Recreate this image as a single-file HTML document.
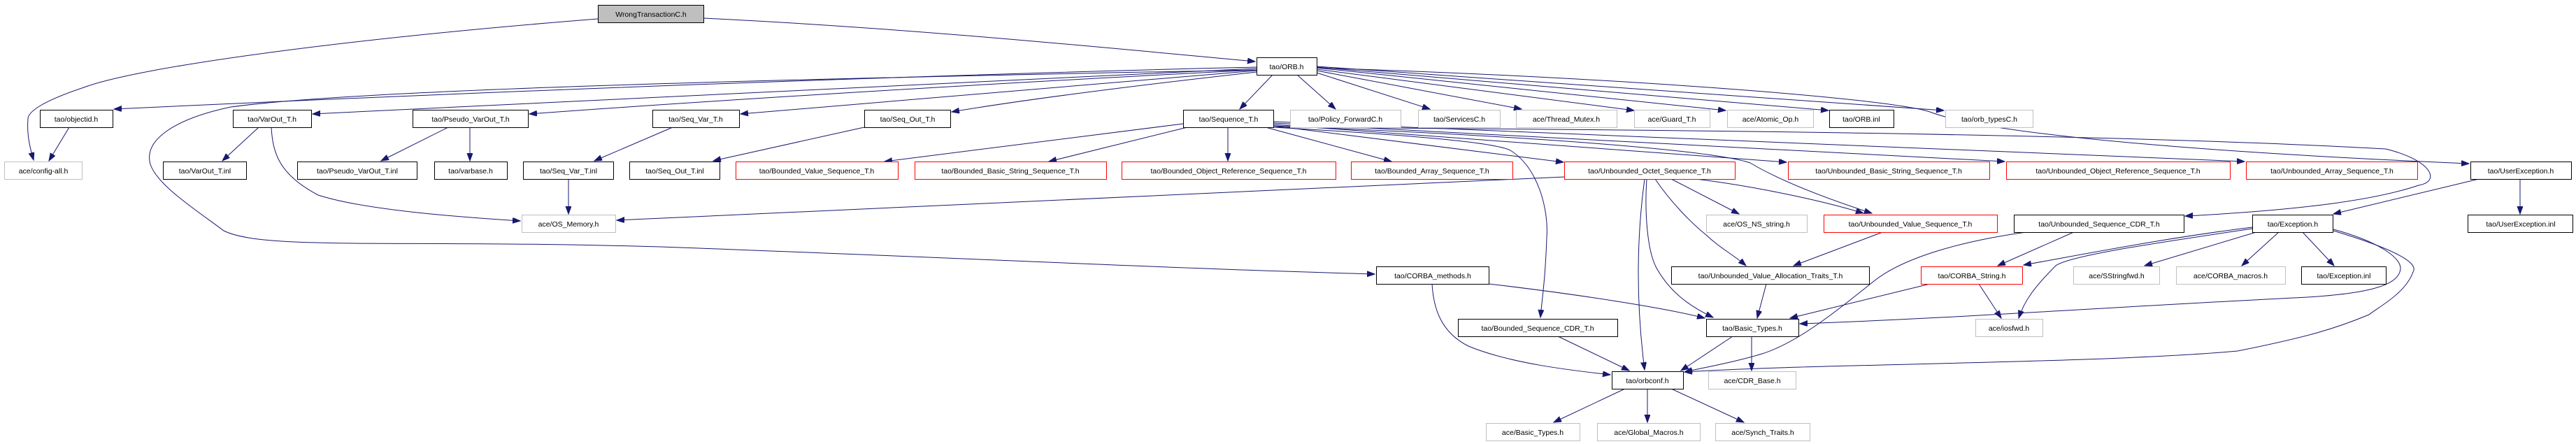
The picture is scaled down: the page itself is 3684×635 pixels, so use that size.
<!DOCTYPE html>
<html><head><meta charset="utf-8"><style>
html,body{margin:0;padding:0;background:#fff;}
svg{display:block;}
text{font-family:"Liberation Sans",sans-serif;font-size:10.5px;fill:#000;}
.b{fill:#fff;stroke:#000;stroke-width:1;}
.g{fill:#fff;stroke:#bfbfbf;stroke-width:1;}
.r{fill:#fff;stroke:#ff0000;stroke-width:1;}
.e path,.e line{fill:none;stroke:#191970;stroke-width:1;marker-end:url(#a);}
</style></head><body>
<svg width="3684" height="635" viewBox="0 0 3684 635" xmlns="http://www.w3.org/2000/svg">
<defs><marker id="a" markerUnits="userSpaceOnUse" markerWidth="12" markerHeight="10" refX="11" refY="4" orient="auto"><path d="M0,0 L11,4 L0,8 z" fill="#191970" stroke="#191970"/></marker></defs>
<g class="e">
<path d="M1006,26 C1300,40 1600,70 1795,88"/>
<path d="M855,27 C500,55 200,95 120,125 C60,145 40,160 40,170 C38,195 44,215 48,229"/>
<path d="M1797,96 C1200,110 500,140 163,156"/>
<path d="M1797,98 C1300,120 800,145 447,163"/>
<path d="M1797,100 C1400,120 1000,145 757,163"/>
<path d="M1797,101 C1500,125 1250,145 1059,163"/>
<path d="M1797,103 C1600,125 1450,145 1361,160"/>
<line x1="1820" y1="107" x2="1773" y2="156"/>
<line x1="1855" y1="107" x2="1910" y2="156"/>
<line x1="1883" y1="104" x2="2045" y2="156"/>
<line x1="1883" y1="101" x2="2176" y2="156"/>
<line x1="1883" y1="99" x2="2337" y2="158"/>
<line x1="1883" y1="97" x2="2468" y2="158"/>
<line x1="1883" y1="96" x2="2615" y2="158"/>
<line x1="1883" y1="95" x2="2780" y2="158"/>
<path d="M1883,97 C2300,110 2700,140 2760,160 C2850,195 3200,220 3531,234"/>
<path d="M1797,100 C1000,115 500,130 330,153 C250,170 205,200 215,235 C225,265 280,300 320,330 C380,360 600,340 1000,355 C1400,370 1700,385 1966,392"/>
<path d="M1821,182 C2300,185 3000,190 3412,213 C3480,230 3490,260 3459,265 C3400,285 3300,300 3125,309"/>
<line x1="1692" y1="177" x2="1265" y2="231"/>
<line x1="1698" y1="182" x2="1500" y2="231"/>
<line x1="1756" y1="182" x2="1756" y2="230"/>
<line x1="1810" y1="182" x2="1990" y2="231"/>
<line x1="1821" y1="180" x2="2236" y2="232"/>
<line x1="1821" y1="178" x2="2555" y2="232"/>
<line x1="1821" y1="176" x2="2867" y2="231"/>
<line x1="1821" y1="174" x2="3210" y2="231"/>
<path d="M1821,180 C2200,195 2450,215 2503,233 C2540,255 2600,280 2677,305"/>
<path d="M1821,182 C2050,195 2140,205 2160,215 C2200,240 2215,300 2212,340 C2210,400 2205,430 2203,454"/>
<path d="M2237,253 C1800,270 1300,300 882,315"/>
<line x1="2390" y1="256" x2="2487" y2="306"/>
<path d="M2425,256 C2500,265 2600,285 2665,305"/>
<path d="M2367,256 C2390,290 2420,320 2440,336 C2460,355 2480,365 2497,380"/>
<path d="M2355,256 C2352,300 2355,360 2370,385 C2390,420 2420,440 2450,454"/>
<path d="M2352,256 C2342,330 2338,420 2352,529"/>
<path d="M2129,406 C2250,420 2380,440 2438,455"/>
<path d="M388,182 C390,220 400,250 455,279 C520,300 650,310 744,316"/>
<path d="M2048,406 C2050,440 2060,475 2100,495 C2160,520 2250,530 2303,536"/>
<line x1="2228" y1="481" x2="2330" y2="530"/>
<line x1="2526" y1="406" x2="2513" y2="455"/>
<line x1="2695" y1="331" x2="2565" y2="380"/>
<line x1="2478" y1="481" x2="2404" y2="530"/>
<line x1="2505" y1="481" x2="2505" y2="530"/>
<line x1="2326" y1="555" x2="2222" y2="604"/>
<line x1="2356" y1="555" x2="2356" y2="604"/>
<line x1="2388" y1="555" x2="2494" y2="604"/>
<path d="M2905,331 C2800,345 2720,370 2680,402 C2620,450 2570,490 2520,506 C2480,518 2440,525 2409,532"/>
<line x1="2968" y1="331" x2="2857" y2="380"/>
<path d="M3221,325 C3100,340 3000,360 2894,379"/>
<path d="M3221,327 C3100,345 2960,365 2940,380 C2910,410 2895,430 2887,455"/>
<line x1="3230" y1="331" x2="3067" y2="380"/>
<line x1="3260" y1="331" x2="3206" y2="380"/>
<line x1="3292" y1="331" x2="3338" y2="380"/>
<path d="M3337,328 C3400,345 3440,370 3432,389 C3425,410 3380,420 3300,425 C3000,440 2800,455 2574,463"/>
<path d="M3337,330 C3420,355 3460,375 3451,389 C3440,420 3400,440 3388,450 C3340,470 3300,482 3200,502 C3000,520 2600,520 2409,532"/>
<line x1="3545" y1="256" x2="3337" y2="306"/>
<line x1="3604" y1="256" x2="3604" y2="306"/>
<line x1="2760" y1="406" x2="2560" y2="455"/>
<line x1="2830" y1="406" x2="2862" y2="455"/>
<line x1="641" y1="182" x2="545" y2="230"/>
<line x1="672" y1="182" x2="672" y2="230"/>
<line x1="370" y1="182" x2="318" y2="230"/>
<line x1="99" y1="182" x2="70" y2="230"/>
<line x1="962" y1="182" x2="850" y2="230"/>
<line x1="813" y1="256" x2="813" y2="306"/>
<line x1="1236" y1="182" x2="1020" y2="230"/>
</g>
<g text-anchor="middle">
<rect x="855.5" y="7.5" width="151" height="25" fill="#bfbfbf" stroke="#000"/><text x="931" y="24">WrongTransactionC.h</text>
<rect class="b" x="1797.5" y="82.5" width="86" height="25"/><text x="1840" y="99">tao/ORB.h</text>
<rect class="b" x="57.5" y="157.5" width="104" height="25"/><text x="109" y="174">tao/objectid.h</text>
<rect class="b" x="333.5" y="157.5" width="112" height="25"/><text x="389" y="174">tao/VarOut_T.h</text>
<rect class="b" x="590.5" y="157.5" width="165" height="25"/><text x="673" y="174">tao/Pseudo_VarOut_T.h</text>
<rect class="b" x="933.5" y="157.5" width="124" height="25"/><text x="995" y="174">tao/Seq_Var_T.h</text>
<rect class="b" x="1236.5" y="157.5" width="123" height="25"/><text x="1298" y="174">tao/Seq_Out_T.h</text>
<rect class="b" x="1692.5" y="157.5" width="129" height="25"/><text x="1757" y="174">tao/Sequence_T.h</text>
<rect class="g" x="1845.5" y="157.5" width="158" height="25"/><text x="1924" y="174">tao/Policy_ForwardC.h</text>
<rect class="g" x="2028.5" y="157.5" width="117" height="25"/><text x="2087" y="174">tao/ServicesC.h</text>
<rect class="g" x="2168.5" y="157.5" width="144" height="25"/><text x="2240" y="174">ace/Thread_Mutex.h</text>
<rect class="g" x="2337.5" y="157.5" width="108" height="25"/><text x="2391" y="174">ace/Guard_T.h</text>
<rect class="g" x="2470.5" y="157.5" width="123" height="25"/><text x="2532" y="174">ace/Atomic_Op.h</text>
<rect class="b" x="2616.5" y="157.5" width="92" height="25"/><text x="2662" y="174">tao/ORB.inl</text>
<rect class="g" x="2782.5" y="157.5" width="125" height="25"/><text x="2845" y="174">tao/orb_typesC.h</text>
<rect class="g" x="6.5" y="231.5" width="111" height="25"/><text x="62" y="248">ace/config-all.h</text>
<rect class="b" x="233.5" y="231.5" width="119" height="25"/><text x="293" y="248">tao/VarOut_T.inl</text>
<rect class="b" x="425.5" y="231.5" width="171" height="25"/><text x="511" y="248">tao/Pseudo_VarOut_T.inl</text>
<rect class="b" x="621.5" y="231.5" width="104" height="25"/><text x="673" y="248">tao/varbase.h</text>
<rect class="b" x="748.5" y="231.5" width="129" height="25"/><text x="813" y="248">tao/Seq_Var_T.inl</text>
<rect class="b" x="900.5" y="231.5" width="129" height="25"/><text x="965" y="248">tao/Seq_Out_T.inl</text>
<rect class="r" x="1052.5" y="231.5" width="232" height="25"/><text x="1168" y="248">tao/Bounded_Value_Sequence_T.h</text>
<rect class="r" x="1308.5" y="231.5" width="274" height="25"/><text x="1445" y="248">tao/Bounded_Basic_String_Sequence_T.h</text>
<rect class="r" x="1604.5" y="231.5" width="306" height="25"/><text x="1757" y="248">tao/Bounded_Object_Reference_Sequence_T.h</text>
<rect class="r" x="1932.5" y="231.5" width="231" height="25"/><text x="2048" y="248">tao/Bounded_Array_Sequence_T.h</text>
<rect class="r" x="2237.5" y="231.5" width="244" height="25"/><text x="2359" y="248">tao/Unbounded_Octet_Sequence_T.h</text>
<rect class="r" x="2557.5" y="231.5" width="288" height="25"/><text x="2701" y="248">tao/Unbounded_Basic_String_Sequence_T.h</text>
<rect class="r" x="2869.5" y="231.5" width="320" height="25"/><text x="3029" y="248">tao/Unbounded_Object_Reference_Sequence_T.h</text>
<rect class="r" x="3212.5" y="231.5" width="245" height="25"/><text x="3335" y="248">tao/Unbounded_Array_Sequence_T.h</text>
<rect class="b" x="3533.5" y="231.5" width="144" height="25"/><text x="3605" y="248">tao/UserException.h</text>
<rect class="g" x="746.5" y="307.5" width="134" height="25"/><text x="813" y="324">ace/OS_Memory.h</text>
<rect class="g" x="2440.5" y="307.5" width="144" height="25"/><text x="2512" y="324">ace/OS_NS_string.h</text>
<rect class="r" x="2608.5" y="307.5" width="248" height="25"/><text x="2732" y="324">tao/Unbounded_Value_Sequence_T.h</text>
<rect class="b" x="2880.5" y="307.5" width="243" height="25"/><text x="3002" y="324">tao/Unbounded_Sequence_CDR_T.h</text>
<rect class="b" x="3221.5" y="307.5" width="115" height="25"/><text x="3279" y="324">tao/Exception.h</text>
<rect class="b" x="3529.5" y="307.5" width="150" height="25"/><text x="3605" y="324">tao/UserException.inl</text>
<rect class="b" x="1968.5" y="381.5" width="161" height="25"/><text x="2049" y="398">tao/CORBA_methods.h</text>
<rect class="b" x="2390.5" y="381.5" width="283" height="25"/><text x="2532" y="398">tao/Unbounded_Value_Allocation_Traits_T.h</text>
<rect class="r" x="2747.5" y="381.5" width="145" height="25"/><text x="2820" y="398">tao/CORBA_String.h</text>
<rect class="g" x="2965.5" y="381.5" width="123" height="25"/><text x="3027" y="398">ace/SStringfwd.h</text>
<rect class="g" x="3112.5" y="381.5" width="156" height="25"/><text x="3190" y="398">ace/CORBA_macros.h</text>
<rect class="b" x="3291.5" y="381.5" width="121" height="25"/><text x="3352" y="398">tao/Exception.inl</text>
<rect class="b" x="2085.5" y="456.5" width="228" height="25"/><text x="2199" y="473">tao/Bounded_Sequence_CDR_T.h</text>
<rect class="b" x="2440.5" y="456.5" width="132" height="25"/><text x="2506" y="473">tao/Basic_Types.h</text>
<rect class="g" x="2825.5" y="456.5" width="96" height="25"/><text x="2873" y="473">ace/iosfwd.h</text>
<rect class="b" x="2305.5" y="531.5" width="102" height="25"/><text x="2356" y="548">tao/orbconf.h</text>
<rect class="g" x="2443.5" y="531.5" width="125" height="25"/><text x="2506" y="548">ace/CDR_Base.h</text>
<rect class="g" x="2125.5" y="605.5" width="134" height="25"/><text x="2192" y="622">ace/Basic_Types.h</text>
<rect class="g" x="2284.5" y="605.5" width="147" height="25"/><text x="2358" y="622">ace/Global_Macros.h</text>
<rect class="g" x="2453.5" y="605.5" width="135" height="25"/><text x="2521" y="622">ace/Synch_Traits.h</text>
</g>
</svg>
</body></html>
